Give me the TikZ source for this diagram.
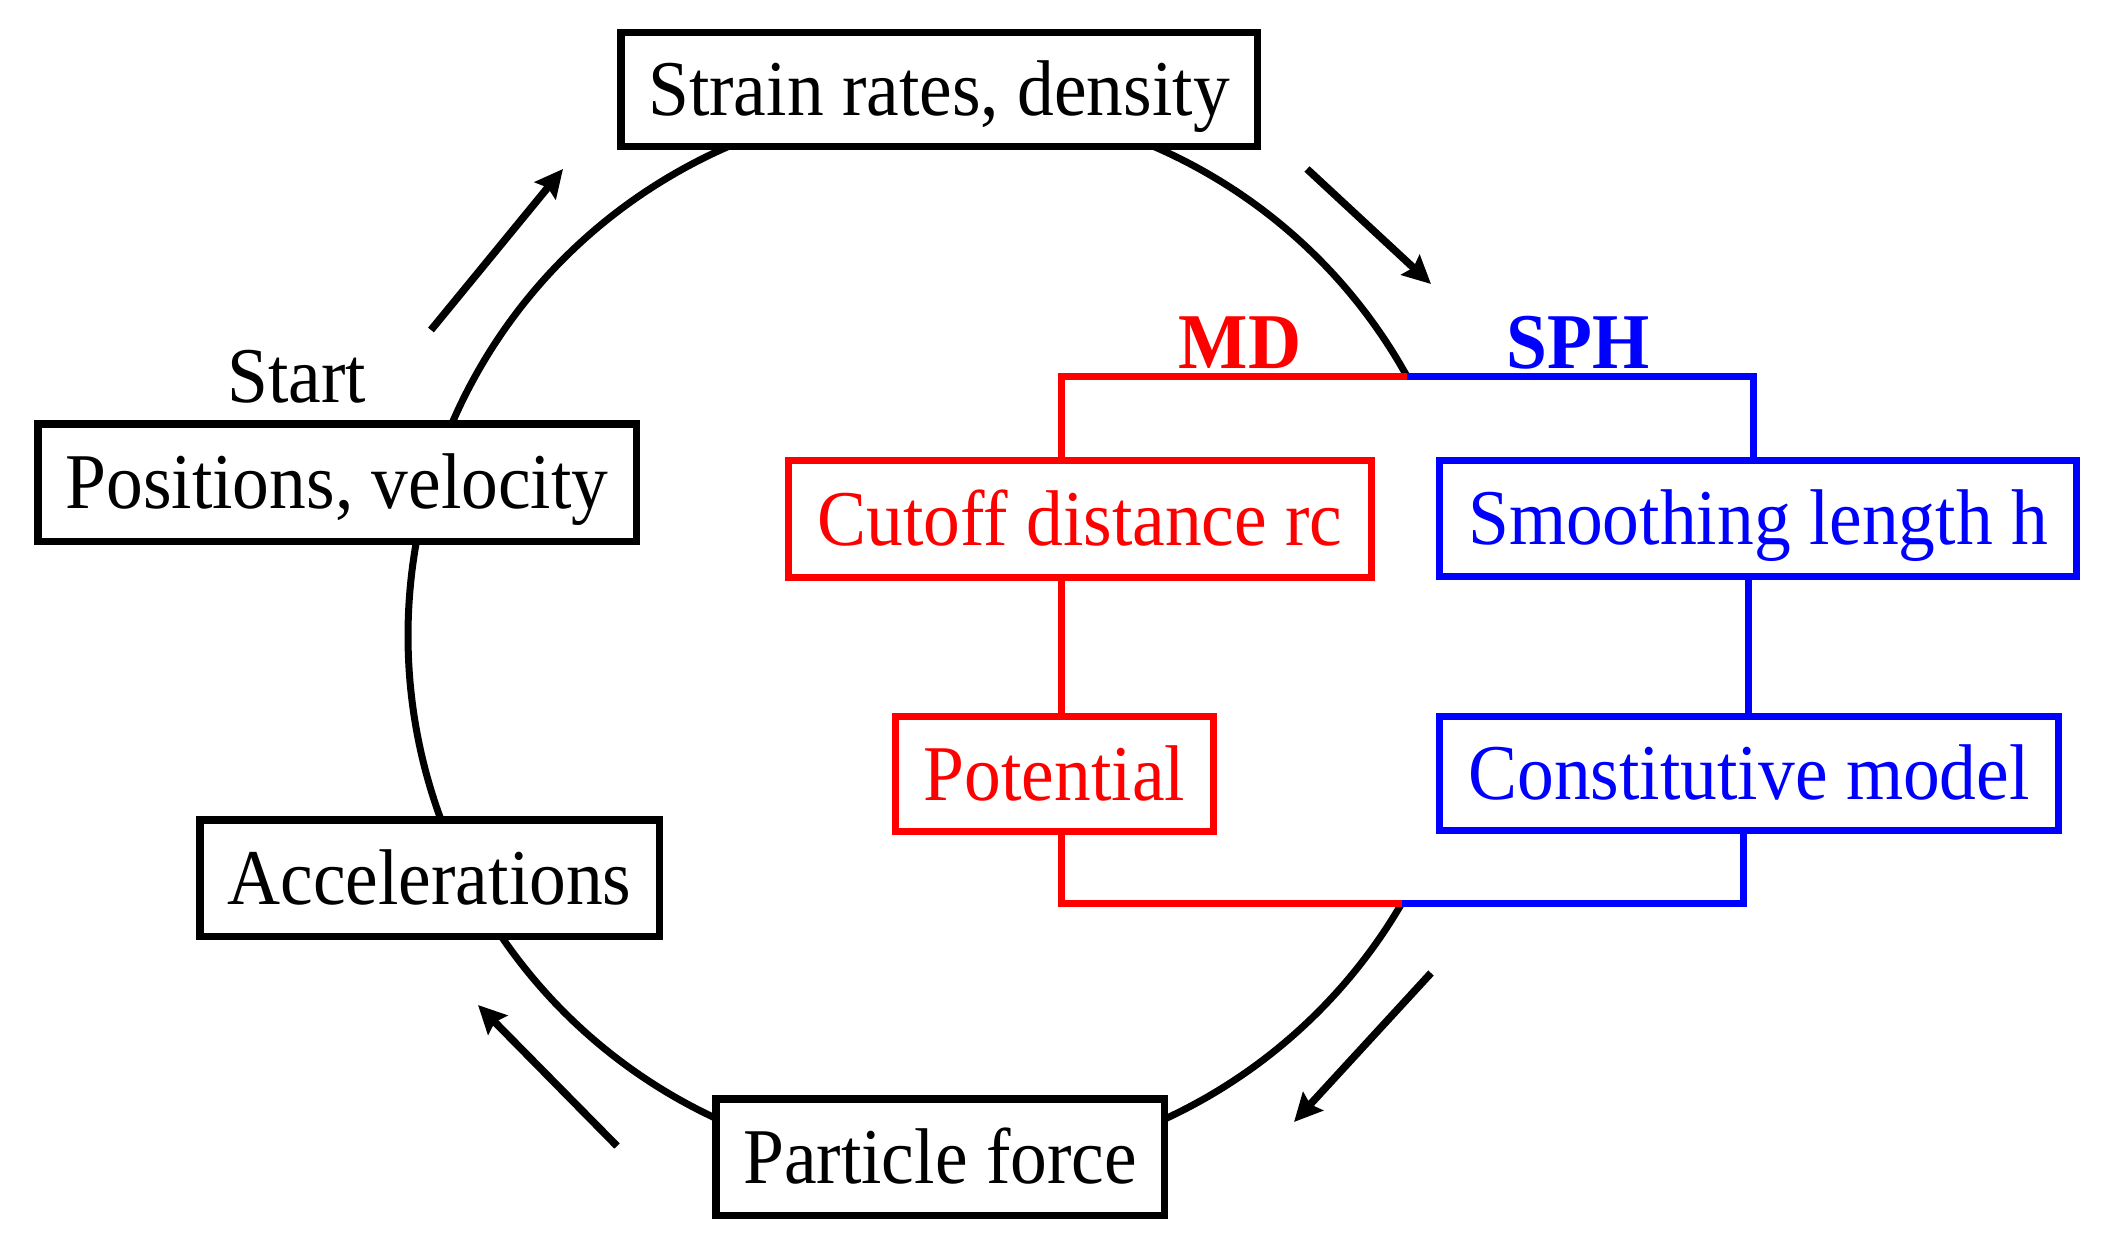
\documentclass[tikz,border=0pt]{standalone}
\usepackage{fontspec}
\setmainfont{Liberation Serif}[FakeStretch=0.93]
\usetikzlibrary{arrows.meta}
\begin{document}
\begin{tikzpicture}[x=1pt,y=-1pt,
  bx/.style={draw=black, line width=7.5pt, fill=white, inner sep=0pt,
    text height=52pt, text depth=0pt, font=\fontsize{79}{90}\selectfont},
  rbx/.style={bx, draw=red, text=red, line width=7pt},
  bbx/.style={bx, draw=blue, text=blue, line width=7pt},
  ring/.style={draw=black, line width=7pt},
  rline/.style={draw=red, line width=7pt},
  bline/.style={draw=blue, line width=7pt},
  flow/.style={draw=black, line width=7.5pt, -{Stealth[length=28pt,width=27pt,inset=4pt]}},
  lbl/.style={font=\fontsize{79}{90}\selectfont, inner sep=0pt, anchor=base},
]
\useasboundingbox (0,0) rectangle (2116,1255);
% ring
\coordinate (ctr) at (941,635);
\coordinate (jtop) at (1406.8,376);
\coordinate (jbot) at (1401.7,903);
\draw[ring] (jtop) arc[start angle=29.1, end angle=329.8, radius=533pt];
% bracket coordinates
\coordinate (mdx) at (1061,376);
\coordinate (sphtop) at (1753,376);
\coordinate (sphmid) at (1748,580);
\coordinate (sphbot) at (1743,903);
% black boxes
\node[bx, minimum width=636.5pt, minimum height=113.5pt] (strain) at (939,89.5) {Strain rates, density};
\node[bx, minimum width=598.5pt, minimum height=117.5pt] (pos) at (337,482.5) {Positions, velocity};
\node[bx, minimum width=459.5pt, minimum height=116.5pt] (acc) at (429.5,878) {Accelerations};
\node[bx, minimum width=448.5pt, minimum height=116.5pt] (force) at (940,1157) {Particle force};
% coloured boxes
\node[rbx, minimum width=583pt, minimum height=117pt] (cutoff) at (1080,519) {Cutoff distance rc};
\node[rbx, minimum width=318pt, minimum height=115pt] (pot) at (1054.5,774) {Potential};
\node[bbx, minimum width=637pt, minimum height=116pt] (smooth) at (1758,518.5) {Smoothing length h};
\node[bbx, minimum width=619pt, minimum height=114pt] (const) at (1749,773.5) {Constitutive model};
% labels
\node[lbl] (start) at (297,402) {Start};
\node[lbl, text=red, font=\fontsize{79}{90}\selectfont\bfseries] (md) at (1240,368) {MD};
\node[lbl, text=blue, font=\fontsize{79}{90}\selectfont\bfseries] (sph) at (1578,368) {SPH};
% red bracket
\draw[rline] (jtop) -- (mdx) -- (mdx |- cutoff.north);
\draw[rline] (mdx |- cutoff.south) -- (mdx |- pot.north);
\draw[rline] (mdx |- pot.south) -- (mdx |- jbot) -- (jbot);
% blue bracket
\draw[bline] (jtop) -- (sphtop) -- (sphtop |- smooth.north);
\draw[bline] (sphmid |- smooth.south) -- (sphmid |- const.north);
\draw[bline] (sphbot |- const.south) -- (sphbot) -- (jbot);
% flow arrows
\coordinate (a1s) at (431,330); \coordinate (a1e) at (563,169);
\coordinate (a2s) at (1307,169); \coordinate (a2e) at (1431,284);
\coordinate (a3s) at (1431,973); \coordinate (a3e) at (1294,1122);
\coordinate (a4s) at (617,1146); \coordinate (a4e) at (478,1005);
\draw[flow] (a1s) -- (a1e);
\draw[flow] (a2s) -- (a2e);
\draw[flow] (a3s) -- (a3e);
\draw[flow] (a4s) -- (a4e);
\end{tikzpicture}
\end{document}
